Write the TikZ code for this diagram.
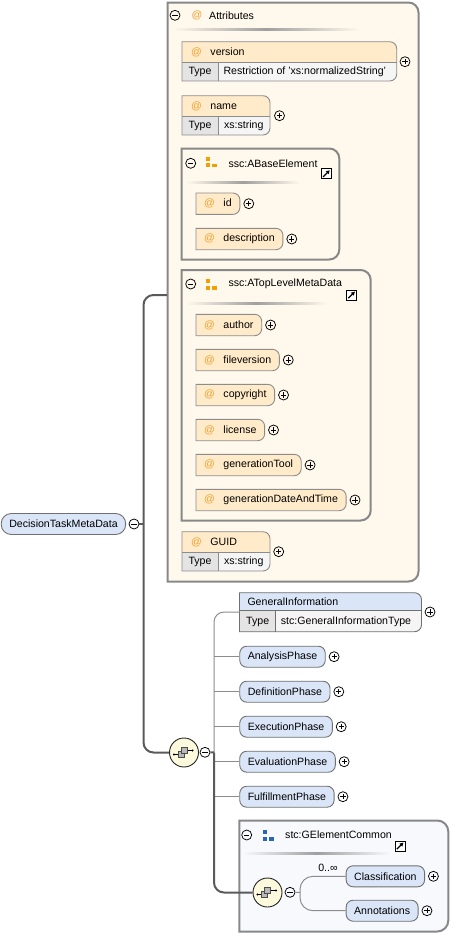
\documentclass[tikz,border=0pt]{standalone}
\usepackage{fontspec}
\setmainfont{Liberation Sans}
\usetikzlibrary{positioning,backgrounds,arrows.meta}
\pgfdeclarelayer{bg}
\pgfsetlayers{bg,main}
\definecolor{cream}{HTML}{FFF8EC}
\definecolor{grpline}{HTML}{888888}
\definecolor{attrfill}{HTML}{FFEBC9}
\definecolor{pillborder}{HTML}{8C8C8C}
\definecolor{atsign}{HTML}{F0A030}
\definecolor{elemfill}{HTML}{DAE6F8}
\definecolor{elemline}{HTML}{707070}
\definecolor{typefill}{HTML}{E4E4E4}
\definecolor{valfill}{HTML}{F5F5F5}
\definecolor{trunkc}{HTML}{5A5A5A}
\definecolor{branchc}{HTML}{8C8C8C}
\definecolor{seqfill}{HTML}{FCF9DC}
\definecolor{gcfill}{HTML}{F7F9FD}
\definecolor{grporange}{HTML}{F0A000}
\definecolor{grpblue}{HTML}{2A64B4}

\newcommand\rrbox[6]{\path[#1] (#2,#3) -- (#4-#6,#3) arc[start angle=90,end angle=0,radius=#6pt] -- (#4,#5-#6) arc[start angle=0,end angle=-90,radius=#6pt] -- (#2,#5) -- cycle;}
\newcommand\tworow[8]{%
 \fill[#7] (#1,#2) -- (#6-7,#2) arc[start angle=90,end angle=0,radius=7pt] -- (#6,#3) -- (#1,#3) -- cycle;
 \fill[typefill] (#1,#3) rectangle (#5,#4);
 \fill[valfill] (#5,#3) -- (#6,#3) -- (#6,#4-7) arc[start angle=0,end angle=-90,radius=7pt] -- (#5,#4) -- cycle;
 \draw[#8, line width=0.9pt] (#1,#2) -- (#6-7,#2) arc[start angle=90,end angle=0,radius=7pt] -- (#6,#4-7) arc[start angle=0,end angle=-90,radius=7pt] -- (#1,#4) -- cycle;
 \draw[#8, line width=0.9pt] (#1,#3) -- (#6,#3) (#5,#3) -- (#5,#4);}
\newcommand\pill[4]{%
 \node[pillnode] (#1) at (#2,#3) {\textcolor{atsign}{@}\hspace{8.5pt}#4};
 \begin{pgfonlayer}{bg}\draw[pillline] (#1.north west) -- ([xshift=-7pt]#1.north east) arc[start angle=90,end angle=0,radius=7pt] -- ([yshift=7pt]#1.south east) arc[start angle=0,end angle=-90,radius=7pt] -- (#1.south west) -- cycle;\end{pgfonlayer}
 \node[expandc, right=3.5pt of #1] (#1p) {};}
\newcommand\elem[4]{%
 \node[elemnode] (#1) at (#2,#3) {#4};
 \node[expandc, right=3pt of #1] (#1p) {};}
\newcommand\grpicon[3]{%
 \fill[#3] (#1,#2) rectangle (#1+4,#2+4);
 \fill[#3] (#1,#2+6.5) rectangle (#1+4,#2+10.5);
 \fill[#3] (#1+6,#2+7) rectangle (#1+10.5,#2+10.5);}
\newcommand\linkicon[2]{%
 \draw[fill=white, draw=black, line width=0.9pt] (#1-5,#2-5) rectangle (#1+5,#2+5);
 \draw[line width=1.1pt, -{Triangle[length=3.6pt,width=3.8pt]}] (#1-3.2,#2+3.2) -- (#1+3.4,#2-3.4);}
\newcommand\seqicon[1]{%
 \begin{scope}[shift={(#1.center)}]
  \draw[line width=0.8pt] (-10,2) -- (-5,2);
  \draw[line width=0.8pt] (3,-2) -- (8.5,-2);
  \fill (-10,2) circle[radius=1.2pt];
  \fill (8.5,-2) circle[radius=1.2pt];
  \draw[fill=gray!55, draw=black!70, line width=0.6pt] (-6,-1) rectangle (0,5);
  \draw[fill=gray!55, draw=black!70, line width=0.6pt] (-3,-5) rectangle (3,1);
 \end{scope}}

\begin{document}
\begin{tikzpicture}[x=1pt,y=-1pt,
  font=\fontsize{10.6}{12.7}\selectfont,
  txt/.style={inner sep=0pt, anchor=west},
  expandc/.style={circle, draw=black, line width=0.75pt, minimum size=10pt, inner sep=0pt,
    path picture={\draw[line width=0.75pt] ([xshift=-2.6pt]path picture bounding box.center) -- ([xshift=2.6pt]path picture bounding box.center);
      \draw[line width=0.75pt] ([yshift=-2.6pt]path picture bounding box.center) -- ([yshift=2.6pt]path picture bounding box.center);}},
  collapsec/.style={circle, draw=black, line width=0.75pt, minimum size=10pt, inner sep=0pt,
    path picture={\draw[line width=0.75pt] ([xshift=-2.6pt]path picture bounding box.center) -- ([xshift=2.6pt]path picture bounding box.center);}},
  pillnode/.style={anchor=west, inner xsep=8pt, inner ysep=0pt, minimum height=21pt},
  pillline/.style={draw=pillborder, fill=attrfill, line width=0.9pt},
  elemnode/.style={anchor=west, draw=elemline, fill=elemfill, rounded corners=7pt, line width=0.9pt, inner xsep=8pt, inner ysep=0pt, minimum height=21pt},
  grpbox/.style={draw=grpline, line width=2pt, fill=cream},
  seqc/.style={circle, draw=black!85, fill=seqfill, line width=0.9pt, minimum size=29pt, inner sep=0pt},
  trunk/.style={draw=trunkc, line width=2pt},
  branch/.style={draw=branchc, line width=1pt},
]
\useasboundingbox (0,0) rectangle (468,935);

% ---------- group boxes (background) ----------
\begin{pgfonlayer}{bg}
\rrbox{grpbox}{167.5}{2.5}{418.5}{581.5}{10}
\rrbox{grpbox}{181.7}{148.5}{339.3}{259.5}{10}
\rrbox{grpbox}{181.7}{270}{370.7}{520.5}{10}
\rrbox{draw=grpline, line width=2pt, fill=gcfill}{239.3}{820.5}{448.3}{931.5}{11}
\end{pgfonlayer}

% ---------- Attributes header ----------
\node[collapsec] (attrm) at (175,15.3) {};
\node[txt, text=atsign] (attrat) at (191.5,15.3) {@};
\node[txt] (attrtitle) at (209,15.3) {Attributes};
\shade[left color=cream, right color=cream, middle color=gray!75] (172,28.5) rectangle (360,30.8);

% version
\tworow{182}{41.7}{62.7}{81}{218.3}{396.7}{attrfill}{pillborder}
\node[txt] (versionh) at (191,52.3) {\textcolor{atsign}{@}\hspace{8.5pt}version};
\node[txt] (versiont) at (188.3,71.8) {Type};
\node[txt] (versionv) at (223.3,71.8) {Restriction of 'xs:normalizedString'};
\node[expandc] (versionp) at (405,61.7) {};

% name
\tworow{182}{95.7}{116.7}{135}{218.3}{270}{attrfill}{pillborder}
\node[txt] (nameh) at (191,106.4) {\textcolor{atsign}{@}\hspace{8.5pt}name};
\node[txt] (namet) at (188.3,125.9) {Type};
\node[txt] (namev) at (223.8,125.9) {xs:string};
\node[expandc] (namep) at (279.5,115.7) {};

% ---------- ssc:ABaseElement ----------
\node[collapsec] (abm) at (190.7,163.3) {};
\grpicon{206}{156.7}{grporange}
\node[txt] (abtitle) at (228.3,163.3) {ssc:ABaseElement};
\linkicon{326.3}{173.7}
\shade[left color=cream, right color=cream, middle color=gray!75] (186,181) rectangle (300,183.2);
\pill{id}{196}{203.7}{id}
\pill{description}{196}{239}{description}

% ---------- ssc:ATopLevelMetaData ----------
\node[collapsec] (atm) at (190.7,284) {};
\grpicon{206}{279.3}{grporange}
\node[txt] (attitle) at (228.3,284) {ssc:ATopLevelMetaData};
\linkicon{351.5}{295}
\shade[left color=cream, right color=cream, middle color=gray!75] (186,302) rectangle (327,304.2);
\pill{author}{196}{325}{author}
\pill{fileversion}{196}{360}{fileversion}
\pill{copyright}{196}{395}{copyright}
\pill{license}{196}{430}{license}
\pill{generationTool}{196}{465}{generationTool}
\pill{generationDateAndTime}{196}{500}{generationDateAndTime}

% GUID
\tworow{182}{531.7}{552.7}{571}{218.3}{270}{attrfill}{pillborder}
\node[txt] (guidh) at (191,542.3) {\textcolor{atsign}{@}\hspace{8.5pt}GUID};
\node[txt] (guidt) at (188.3,561.9) {Type};
\node[txt] (guidv) at (223.8,561.9) {xs:string};
\node[expandc] (guidp) at (278.7,551.7) {};

% ---------- root element ----------
\node[elemnode, rounded corners=10pt] (dtmd) at (0.8,524) {DecisionTaskMetaData};
\node[collapsec] (dtmdm) at (134,524) {};

% ---------- main sequence ----------
\node[seqc] (seq1) at (184,752.5) {};
\seqicon{seq1}
\node[collapsec] (seq1m) at (205,752.3) {};
\coordinate (attrin) at (167,295);
\draw[trunk, rounded corners=10pt] (attrin) -- (143.5,295) -- (143.5,752.5) -- (seq1.west);
\draw[trunk] (dtmdm.east) -- (143.5,524);

% GeneralInformation
\tworow{239.5}{592.7}{610.7}{631.7}{275}{421.5}{elemfill}{elemline}
\node[txt] (gih) at (247.3,601.7) {GeneralInformation};
\node[txt] (git) at (246,621.5) {Type};
\node[txt] (giv) at (280.7,621.5) {stc:GeneralInformationType};
\node[expandc] (gip) at (430,612) {};
\coordinate (giin) at (239.5,612);
\coordinate (brx) at (214,0);

\elem{analysis}{239.3}{656.7}{AnalysisPhase}
\elem{definition}{239.3}{691.7}{DefinitionPhase}
\elem{execution}{239.3}{726.7}{ExecutionPhase}
\elem{evaluation}{239.3}{761.7}{EvaluationPhase}
\elem{fulfillment}{239.3}{796.7}{FulfillmentPhase}

\draw[branch, rounded corners=10pt] (giin) -- (214,612) -- (214,796.7);
\draw[branch] (analysis.west -| brx) -- (analysis.west);
\draw[branch] (definition.west -| brx) -- (definition.west);
\draw[branch] (execution.west -| brx) -- (execution.west);
\draw[branch] (evaluation.west -| brx) -- (evaluation.west);
\draw[branch] (fulfillment.west -| brx) -- (fulfillment.west);

% ---------- stc:GElementCommon ----------
\node[collapsec] (gcm) at (246.7,835) {};
\grpicon{263.3}{830}{grpblue}
\node[txt] (gctitle) at (285,835) {stc:GElementCommon};
\linkicon{400}{846}
\shade[left color=gcfill, right color=gcfill, middle color=gray!75] (243,852) rectangle (390,854.2);

\node[seqc] (seq2) at (267.5,892.5) {};
\seqicon{seq2}
\node[collapsec] (seq2m) at (290,892.3) {};
\draw[trunk] (seq1m.east) -- (214,752.5);
\draw[trunk, rounded corners=10pt] (214,752.5) -- (214,892.5) -- (seq2.west);

\elem{class}{345.7}{876.3}{Classification}
\elem{annot}{345.7}{910.7}{Annotations}
\node[inner sep=0pt] (occ) at (328,867.5) {0..∞};
\draw[branch] (seq2m.east) -- (300,892.5);
\draw[branch, rounded corners=13pt] (class.west) -- (300,876.3) -- (300,910.7) -- (annot.west);
\end{tikzpicture}
\end{document}
